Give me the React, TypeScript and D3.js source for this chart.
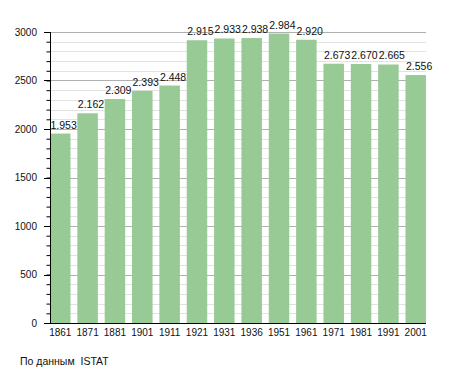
import React, { useEffect, useRef } from "react";
import * as d3 from "d3";

const years = ["1861", "1871", "1881", "1901", "1911", "1921", "1931", "1936", "1951", "1961", "1971", "1981", "1991", "2001"];
const population = [1953, 2162, 2309, 2393, 2448, 2915, 2933, 2938, 2984, 2920, 2673, 2670, 2665, 2556];
const yTicks = [0, 500, 1000, 1500, 2000, 2500, 3000];
const sourceNote = "По данным  ISTAT";

const App: React.FC = () => {
  const svgRef = useRef<SVGSVGElement>(null);
  const width = 455;
  const height = 373;
  const left = 50;
  const right = 426;
  const top = 32;
  const bottom = 323;
  const font = "'Liberation Sans', Arial, sans-serif";

  useEffect(() => {
    if (!svgRef.current) return;
    const svg = d3.select(svgRef.current);
    svg.selectAll("*").remove();

    const x = d3
      .scaleBand<string>()
      .domain(years)
      .range([left, right])
      .paddingInner(0.25)
      .paddingOuter(0);
    const y = d3.scaleLinear().domain([0, 3000]).range([bottom, top]);

    // minor grid every 100
    const minor = d3.range(100, 3001, 100).filter((v) => v % 500 !== 0);
    svg
      .append("g")
      .selectAll("line")
      .data(minor)
      .enter()
      .append("line")
      .attr("x1", left)
      .attr("x2", right)
      .attr("y1", (d) => Math.round(y(d)) + 0.5)
      .attr("y2", (d) => Math.round(y(d)) + 0.5)
      .attr("stroke", "#e2e2e2")
      .attr("stroke-width", 1);

    // major grid every 500
    svg
      .append("g")
      .selectAll("line")
      .data(yTicks.filter((v) => v > 0))
      .enter()
      .append("line")
      .attr("x1", left)
      .attr("x2", right)
      .attr("y1", (d) => Math.round(y(d)) + 0.5)
      .attr("y2", (d) => Math.round(y(d)) + 0.5)
      .attr("stroke", "#b0b0b0")
      .attr("stroke-width", 1);

    // bars
    svg
      .append("g")
      .selectAll("rect")
      .data(population)
      .enter()
      .append("rect")
      .attr("x", (_, i) => x(years[i]) || 0)
      .attr("width", x.bandwidth())
      .attr("y", (d) => y(d))
      .attr("height", (d) => bottom - y(d))
      .attr("fill", "#98ca96");

    // value labels, left-aligned on the bar
    svg
      .append("g")
      .selectAll("text")
      .data(population)
      .enter()
      .append("text")
      .attr("x", (_, i) => (x(years[i]) || 0) + 0.5)
      .attr("y", (d) => y(d) - 5)
      .attr("text-anchor", "start")
      .attr("font-family", font)
      .attr("font-size", "10.5px")
      .attr("fill", "#111")
      .text((d) => d3.format(",")(d).replace(",", "."));

    // y axis minor ticks
    const yAxis = svg
      .append("g")
      .attr("transform", `translate(${left + 0.5},0)`)
      .call(d3.axisLeft(y).tickValues(d3.range(0, 3001, 100)).tickSize(4).tickFormat(() => ""));
    yAxis.selectAll("path").remove();
    yAxis.selectAll("line").attr("stroke", "#000");

    svg
      .append("g")
      .selectAll("line")
      .data(yTicks)
      .enter()
      .append("line")
      .attr("x1", left - 6)
      .attr("x2", left)
      .attr("y1", (d) => Math.round(y(d)) + 0.5)
      .attr("y2", (d) => Math.round(y(d)) + 0.5)
      .attr("stroke", "#000");

    svg
      .append("g")
      .selectAll("text")
      .data(yTicks)
      .enter()
      .append("text")
      .attr("x", left - 13)
      .attr("y", (d) => y(d) + 3.5)
      .attr("text-anchor", "end")
      .attr("font-family", font)
      .attr("font-size", "10px")
      .attr("fill", "#111")
      .text((d) => String(d));

    svg
      .append("line")
      .attr("x1", left + 0.5)
      .attr("x2", left + 0.5)
      .attr("y1", top)
      .attr("y2", bottom + 0.5)
      .attr("stroke", "#000");

    // x axis
    svg
      .append("line")
      .attr("x1", left)
      .attr("x2", right)
      .attr("y1", bottom + 0.5)
      .attr("y2", bottom + 0.5)
      .attr("stroke", "#000");

    svg
      .append("g")
      .selectAll("text")
      .data(years)
      .enter()
      .append("text")
      .attr("x", (d) => (x(d) || 0) + x.bandwidth() / 2)
      .attr("y", bottom + 13)
      .attr("text-anchor", "middle")
      .attr("font-family", font)
      .attr("font-size", "10px")
      .attr("fill", "#111")
      .text((d) => d);

    svg
      .append("text")
      .attr("x", 20)
      .attr("y", 365)
      .attr("font-family", font)
      .attr("font-size", "10.5px")
      .attr("fill", "#111")
      .style("white-space", "pre")
      .text(sourceNote);
  }, []);

  return (
    <svg
      ref={svgRef}
      width={width}
      height={height}
      style={{ position: "absolute", left: 0, top: 0, background: "#fff" }}
    />
  );
};

export default App;
